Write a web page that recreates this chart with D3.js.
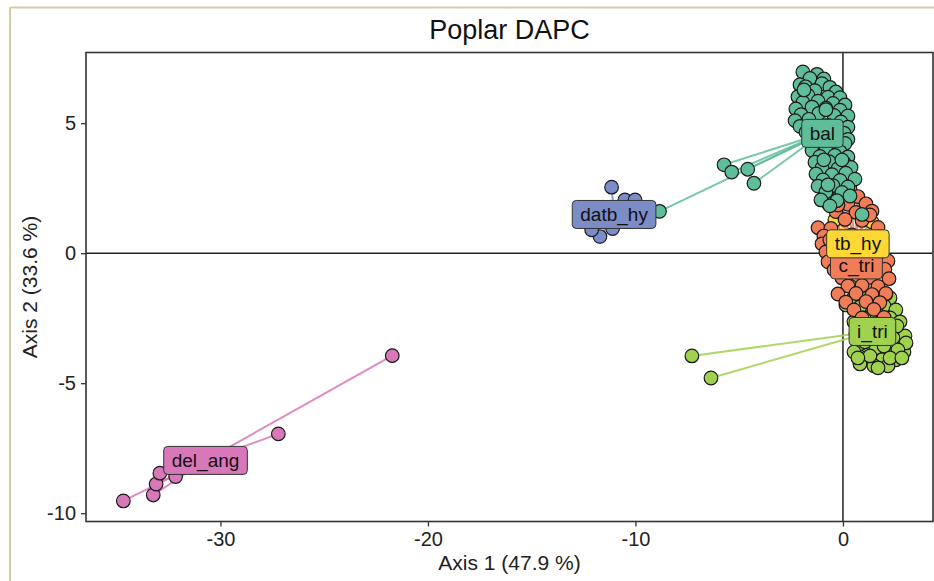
<!DOCTYPE html>
<html><head><meta charset="utf-8">
<script src="https://cdn.jsdelivr.net/npm/d3@7"></script>
<style>html,body{margin:0;padding:0;background:#fff}svg{display:block}text{font-family:"Liberation Sans",Arial,Helvetica,sans-serif}</style>
</head><body><div id="chart"></div>
<script>
const groups = ["bal","c_tri","datb_hy","del_ang","i_tri","tb_hy"];
const groupColors = ["#5fbd99","#f07d58","#7b8cc7","#d877b9","#a0d14f","#fdd835"];
const centroidX = [-0.99, 0.65, -11.03, -30.72, 1.42, 0.72];
const centroidY = [4.61, -0.45, 1.49, -7.97, -3.01, 0.36];
const xTicks = [-30,-20,-10,0];
const yTicks = [-10,-5,0,5];
const titleText = "Poplar DAPC";
const xTitle = "Axis 1 (47.9 %)";
const yTitle = "Axis 2 (33.6 %)";

const balPts = [[-1.93,6.97],[-1.25,6.88],[-1.59,6.72],[-0.92,6.70],[-2.07,6.48],[-1.80,6.40],[-1.01,6.52],[-0.63,6.38],
[-1.35,6.25],[-0.34,6.20],[-2.17,6.02],[-1.69,6.08],[-0.72,6.00],[-0.14,5.98],[-1.93,5.80],[-1.20,5.85],[-0.48,5.76],[0.10,5.70],
[-2.27,5.55],[-1.49,5.62],[-0.82,5.58],[-0.14,5.50],[-2.02,5.33],[-1.16,5.38],[-0.43,5.30],[0.24,5.28],[-2.31,5.10],[-1.64,5.15],[-0.10,5.05],
[-2.07,4.88],[-0.72,4.92],[0.24,4.85],[-1.78,4.65],[0.05,4.62],[-1.49,4.42],[-0.34,4.45],[0.24,4.38],[-1.20,4.20],[-0.63,4.15],[0.10,4.22],
[-1.49,3.95],[-0.82,3.98],[-0.14,3.90],[-1.11,3.72],[-0.39,3.76],[0.24,3.70],[-1.35,3.50],[-0.67,3.52],[0.05,3.48],
[-1.01,3.28],[-0.24,3.25],[0.39,3.30],[-1.30,3.05],[-0.53,3.02],[0.14,3.08],[-0.96,2.82],[-0.14,2.80],[0.58,2.85],
[-1.20,2.58],[-0.48,2.60],[0.24,2.55],[-0.82,2.36],[-0.05,2.34],[-1.06,2.05],[-0.29,2.02],[-0.63,1.82],[0.92,1.49],
[-1.88,6.28],[-0.82,5.52],[-1.54,4.82],[-0.48,4.82],[-0.92,3.59],[-0.05,3.59],[-0.72,2.63],[0.34,2.20],
[-5.73,3.40],[-5.36,3.12],[-4.59,3.23],[-4.29,2.69],[-8.84,1.61]];
const cTriPts = [[-0.53,2.51],[0.34,2.48],[-0.14,2.20],[0.72,2.18],[-0.72,1.92],[0.24,1.88],[1.11,1.90],
[-0.34,1.60],[0.63,1.57],[1.40,1.62],[0.10,1.30],[0.92,1.26],[-1.20,0.98],[-0.58,0.95],[1.69,0.99],
[-0.92,0.66],[0.43,0.70],[1.78,0.64],[-1.01,0.36],[-0.82,0.05],[-0.72,-0.33],[2.17,-0.30],[-0.43,-0.64],[2.02,-0.62],
[-0.05,-0.95],[1.30,-0.93],[2.22,-0.98],[0.24,-1.26],[0.92,-1.24],[1.69,-1.28],[-0.24,-1.57],[0.63,-1.55],[1.40,-1.59],[2.07,-1.55],
[0.14,-1.88],[1.11,-1.86],[1.78,-1.90],[0.53,-2.18],[1.49,-2.16],[0.92,-2.49],[1.98,-2.47],[1.30,-2.80],
[-0.24,1.85],[1.30,1.47],[-0.63,0.51]];
const datbPts = [[-11.15,2.54],[-11.71,0.64],[-12.11,0.90],[-10.51,2.05],[-10.02,2.05],[-10.6,1.3],[-11.1,0.95]];
const delPts = [[-34.68,-9.53],[-33.24,-9.30],[-33.10,-8.88],[-32.92,-8.46],[-32.16,-8.59],[-27.21,-6.95],[-21.72,-3.94]];
const iTriPts = [[0.34,-1.26],[0.92,-1.41],[1.69,-1.49],[2.27,-1.72],[0.43,-1.80],[1.20,-1.87],[1.98,-2.03],[2.55,-2.18],
[0.72,-2.26],[1.49,-2.41],[2.27,-2.49],[2.75,-2.64],[0.53,-2.64],[1.11,-2.80],[1.88,-2.87],[2.55,-3.03],[2.99,-3.18],
[0.63,-3.10],[1.40,-3.26],[2.17,-3.33],[2.75,-3.57],[0.82,-3.49],[1.59,-3.64],[2.36,-3.80],[2.94,-3.80],
[0.53,-3.80],[1.11,-4.03],[1.88,-4.10],[2.55,-4.10],[0.82,-4.26],[1.49,-4.33],[2.17,-4.33],
[0.63,-1.49],[1.40,-1.64],[2.07,-1.57],[0.14,-1.99],[0.82,-2.07],[1.59,-2.15],[1.01,-2.49],[1.88,-2.57],[2.60,-2.80],
[0.82,-2.95],[1.78,-3.10],[2.41,-3.26],[3.04,-3.45],[1.06,-3.41],[1.98,-3.57],[2.65,-3.72],[1.30,-3.95],[2.27,-4.03],
[2.84,-4.03],[0.72,-4.03],[1.69,-4.41],
[-7.28,-3.95],[-6.36,-4.80]];
const tbPts = [[-0.39,1.28],[1.40,1.20],[0.55,0.15],[1.05,0.45],[0.70,-0.25]];
const groupPts = [balPts, cTriPts, datbPts, delPts, iTriPts, tbPts];

const W = 934, H = 581;
const M = {left:86, right:933, top:52.5, bottom:521.5};
const svg = d3.select("#chart").append("svg").attr("width",W).attr("height",H);

svg.append("line").attr("x1",10).attr("x2",10).attr("y1",7.5).attr("y2",H).attr("stroke","#d3cca2").attr("stroke-width",2);
svg.append("line").attr("x1",10).attr("x2",W).attr("y1",7.5).attr("y2",7.5).attr("stroke","#d3cca2").attr("stroke-width",2);

const x = d3.scaleLinear().domain([-36.48, 4.34]).range([M.left, M.right]);
const y = d3.scaleLinear().domain([-10.32, 7.72]).range([M.bottom, M.top]);

const plot = svg.append("g");
plot.append("line").attr("x1",x(0)).attr("x2",x(0)).attr("y1",M.top).attr("y2",M.bottom).attr("stroke","#222").attr("stroke-width",1.5);
plot.append("line").attr("x1",M.left).attr("x2",M.right).attr("y1",y(0)).attr("y2",y(0)).attr("stroke","#222").attr("stroke-width",1.5);

groups.forEach((g,i)=>{
  plot.append("g").selectAll("line").data(groupPts[i]).join("line")
    .attr("x1",x(centroidX[i])).attr("y1",y(centroidY[i]))
    .attr("x2",d=>x(d[0])).attr("y2",d=>y(d[1]))
    .attr("stroke",groupColors[i]).attr("stroke-width",2).attr("stroke-opacity",0.85);
});
const drawOrder = [4,5,1,0,2,3];
drawOrder.forEach(i=>{
  plot.append("g").selectAll("circle").data(groupPts[i]).join("circle")
    .attr("cx",d=>x(d[0])).attr("cy",d=>y(d[1])).attr("r",6.8)
    .attr("fill",groupColors[i]).attr("stroke","#1a1a1a").attr("stroke-width",1.2);
});
groups.forEach((g,i)=>{
  const lg = svg.append("g").attr("transform",`translate(${x(centroidX[i])},${y(centroidY[i])})`);
  const r = lg.append("rect");
  const t = lg.append("text").text(g).attr("text-anchor","middle").attr("dy","0.35em").attr("font-size",19).attr("fill","#111");
  const w = t.node().getComputedTextLength();
  r.attr("x",-w/2-8).attr("y",-14).attr("width",w+16).attr("height",28).attr("rx",4)
   .attr("fill",groupColors[i]).attr("stroke","#333").attr("stroke-width",1);
});

svg.append("rect").attr("x",M.left).attr("y",M.top).attr("width",M.right-M.left).attr("height",M.bottom-M.top)
  .attr("fill","none").attr("stroke","#333").attr("stroke-width",1.6);

const xa = svg.append("g").attr("transform",`translate(0,${M.bottom})`)
  .call(d3.axisBottom(x).tickValues(xTicks).tickSize(5).tickPadding(5));
const ya = svg.append("g").attr("transform",`translate(${M.left},0)`)
  .call(d3.axisLeft(y).tickValues(yTicks).tickSize(5).tickPadding(5));
[xa,ya].forEach(a=>{
  a.select(".domain").remove();
  a.selectAll(".tick line").attr("stroke","#333").attr("stroke-width",1.3);
  a.selectAll(".tick text").attr("font-size",20).attr("fill","#222").attr("font-family","Liberation Sans, Arial, sans-serif")
    .text(d=>d<0? "-"+Math.abs(d) : String(d));
});

svg.append("text").attr("x",(M.left+M.right)/2).attr("y",39).attr("text-anchor","middle").attr("font-size",27).attr("fill","#111").text(titleText);
svg.append("text").attr("x",(M.left+M.right)/2).attr("y",570).attr("text-anchor","middle").attr("font-size",21).attr("fill","#222").text(xTitle);
svg.append("text").attr("transform",`translate(37,${(M.top+M.bottom)/2}) rotate(-90)`).attr("text-anchor","middle").attr("font-size",21).attr("fill","#222").text(yTitle);
</script></body></html>
